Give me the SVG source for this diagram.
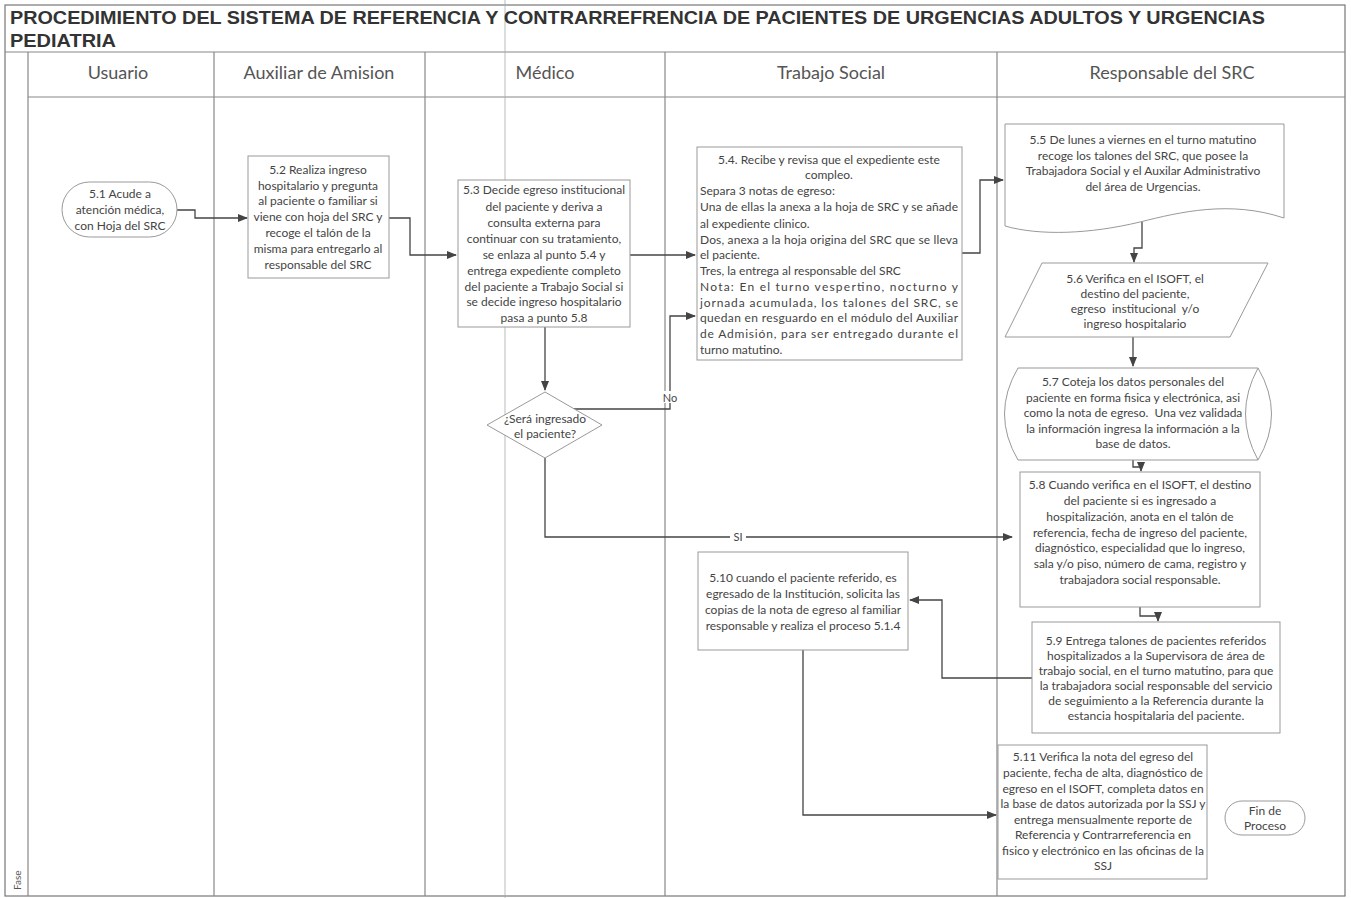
<svg xmlns="http://www.w3.org/2000/svg" width="1351" height="898" viewBox="0 0 1351 898">
<defs>
<marker id="ah" markerWidth="10" markerHeight="8" refX="9" refY="4" orient="auto" markerUnits="userSpaceOnUse">
<path d="M0,0 L10,4 L0,8 Z" fill="#444"/>
</marker>
<style>
.frame{fill:none;stroke:#777;stroke-width:1.2}
.lane{stroke:#888;stroke-width:1.2}
.title{font-family:"Liberation Sans",Arial,sans-serif;font-weight:bold;font-size:19px;fill:#333}
.hdr{font-family:Lato,"Open Sans",sans-serif;font-size:18px;fill:#555;text-anchor:middle}
.node{fill:#fff;stroke:#999;stroke-width:1}
.t{font-family:Lato,"Open Sans",sans-serif;font-size:12px;fill:#444;text-anchor:middle}
.tl{font-family:Lato,"Open Sans",sans-serif;font-size:12px;fill:#444}
.c{fill:none;stroke:#444;stroke-width:1.3}
.lbl{font-family:Lato,"Open Sans",sans-serif;font-size:11px;fill:#444;text-anchor:middle}
</style>
</defs>
<rect width="1351" height="898" fill="#fff"/>

<g id="frame">
<rect class="frame" x="5" y="5" width="1340" height="891"/>
<line class="lane" x1="5" y1="52" x2="1345" y2="52"/>
<line class="lane" x1="28" y1="97" x2="1345" y2="97"/>
<line class="lane" x1="28" y1="52" x2="28" y2="896"/>
<line class="lane" x1="214" y1="52" x2="214" y2="896"/>
<line class="lane" x1="425" y1="52" x2="425" y2="896"/>
<line class="lane" x1="665" y1="52" x2="665" y2="896"/>
<line class="lane" x1="997" y1="52" x2="997" y2="896"/>
<line x1="505" y1="0" x2="505" y2="898" stroke="#aaa" stroke-width="0.8"/>
<text class="title" x="10" y="24" textLength="1255" lengthAdjust="spacingAndGlyphs">PROCEDIMIENTO DEL SISTEMA DE REFERENCIA Y CONTRARREFRENCIA DE PACIENTES  DE URGENCIAS ADULTOS Y URGENCIAS</text>
<text class="title" x="10" y="47" textLength="106" lengthAdjust="spacingAndGlyphs">PEDIATRIA</text>
<text class="hdr" x="118" y="79">Usuario</text>
<text class="hdr" x="319" y="79">Auxiliar de Amision</text>
<text class="hdr" x="545" y="79">Médico</text>
<text class="hdr" x="831" y="79">Trabajo Social</text>
<text class="hdr" x="1172" y="79">Responsable del SRC</text>
<text font-family="Lato,sans-serif" font-size="10" fill="#555" transform="translate(21,890) rotate(-90)">Fase</text>
</g>

<g id="connectors">
<path class="c" d="M177,210 H195 V218 H247" marker-end="url(#ah)"/>
<path class="c" d="M389,218 H410 V255 H456" marker-end="url(#ah)"/>
<path class="c" d="M630,255 H695" marker-end="url(#ah)"/>
<path class="c" d="M545,327 V390" marker-end="url(#ah)"/>
<path class="c" d="M572,409 H670 V316 H695" marker-end="url(#ah)"/>
<rect x="661" y="391" width="18" height="12" fill="#fff"/>
<text class="lbl" x="670" y="402">No</text>
<path class="c" d="M545,458 V537 H1012" marker-end="url(#ah)"/>
<rect x="730" y="531" width="16" height="12" fill="#fff"/>
<text class="lbl" x="738" y="541">SI</text>
<path class="c" d="M962,253 H980 V180 H1003" marker-end="url(#ah)"/>
<path class="c" d="M1142,222 V248 H1134 V262" marker-end="url(#ah)"/>
<path class="c" d="M1133,337 V366" marker-end="url(#ah)"/>
<path class="c" d="M1133,460 V467 H1141 V471" marker-end="url(#ah)"/>
<path class="c" d="M1140,607 V616 H1158 V621" marker-end="url(#ah)"/>
<path class="c" d="M1032,678 H942 V600 H910" marker-end="url(#ah)"/>
<path class="c" d="M803,650 V815 H996" marker-end="url(#ah)"/>
</g>

<g id="n51">
<rect class="node" x="62" y="182" width="115" height="55" rx="27.5"/>
<text class="t" x="120" y="198">5.1 Acude a</text>
<text class="t" x="120" y="214">atención médica,</text>
<text class="t" x="120" y="230">con Hoja del SRC</text>
</g>

<g id="n52">
<rect class="node" x="248" y="156" width="141" height="122"/>
<text class="t" x="318" y="174">5.2 Realiza ingreso</text>
<text class="t" x="318" y="190">hospitalario y pregunta</text>
<text class="t" x="318" y="205">al paciente o familiar si</text>
<text class="t" x="318" y="221">viene con hoja del SRC y</text>
<text class="t" x="318" y="237">recoge el talón de la</text>
<text class="t" x="318" y="253">misma para entregarlo al</text>
<text class="t" x="318" y="269">responsable del SRC</text>
</g>

<g id="n53">
<rect class="node" x="458" y="180" width="172" height="147"/>
<text class="t" x="544" y="194">5.3 Decide egreso institucional</text>
<text class="t" x="544" y="211">del paciente y deriva a</text>
<text class="t" x="544" y="227">consulta externa para</text>
<text class="t" x="544" y="243">continuar con su tratamiento,</text>
<text class="t" x="544" y="259">se enlaza al punto 5.4 y</text>
<text class="t" x="544" y="275">entrega expediente completo</text>
<text class="t" x="544" y="291">del paciente a Trabajo Social si</text>
<text class="t" x="544" y="306">se decide ingreso hospitalario</text>
<text class="t" x="544" y="322">pasa a punto 5.8</text>
</g>

<g id="ndecision">
<polygon class="node" points="545,392 602,425 545,458 487,425"/>
<text class="t" x="545" y="423">¿Será ingresado</text>
<text class="t" x="545" y="438">el paciente?</text>
</g>

<g id="n54">
<rect class="node" x="697" y="147" width="265" height="213"/>
<text class="t" x="829" y="164">5.4. Recibe y revisa que el expediente este</text>
<text class="t" x="829" y="179">compleo.</text>
<text class="tl" x="700" y="195">Separa 3 notas de egreso:</text>
<text class="tl" x="700" y="211" textLength="258" lengthAdjust="spacing">Una de ellas la anexa a la hoja de SRC y se añade</text>
<text class="tl" x="700" y="228">al expediente clinico.</text>
<text class="tl" x="700" y="244" textLength="258" lengthAdjust="spacing">Dos, anexa a la hoja origina del SRC que se lleva</text>
<text class="tl" x="700" y="259">el paciente.</text>
<text class="tl" x="700" y="275">Tres, la entrega al responsable del SRC</text>
<text class="tl" x="700" y="291" textLength="258" lengthAdjust="spacing">Nota: En el turno vespertino, nocturno y</text>
<text class="tl" x="700" y="307" textLength="258" lengthAdjust="spacing">jornada acumulada, los talones del SRC, se</text>
<text class="tl" x="700" y="322" textLength="258" lengthAdjust="spacing">quedan en resguardo en el módulo del Auxiliar</text>
<text class="tl" x="700" y="338" textLength="258" lengthAdjust="spacing">de Admisión, para ser entregado durante el</text>
<text class="tl" x="700" y="354">turno matutino.</text>
</g>

<g id="n55">
<path class="node" d="M1005,124 H1284 V218 C1230,200 1180,212 1140,222 C1090,234 1040,236 1005,226 Z"/>
<text class="t" x="1143" y="144">5.5 De lunes a viernes en el turno matutino</text>
<text class="t" x="1143" y="160">recoge los talones del SRC, que posee la</text>
<text class="t" x="1143" y="175">Trabajadora Social y el Auxilar Administrativo</text>
<text class="t" x="1143" y="191">del área de Urgencias.</text>
</g>

<g id="n56">
<polygon class="node" points="1042,263 1268,263 1230,337 1005,337"/>
<text class="t" x="1135" y="283">5.6 Verifica en el ISOFT, el</text>
<text class="t" x="1135" y="298">destino del paciente,</text>
<text class="t" x="1135" y="313" xml:space="preserve">egreso  institucional  y/o</text>
<text class="t" x="1135" y="328">ingreso hospitalario</text>
</g>

<g id="n57">
<path class="node" d="M1018,368 H1258 Q1285,414 1258,460 H1018 Q991,414 1018,368 Z"/>
<path fill="none" stroke="#999" stroke-width="1" d="M1258,368 Q1233,414 1258,460"/>
<text class="t" x="1133" y="386">5.7 Coteja los datos personales del</text>
<text class="t" x="1133" y="402">paciente en forma fisica y electrónica, asi</text>
<text class="t" x="1133" y="417" xml:space="preserve">como la nota de egreso.  Una vez validada</text>
<text class="t" x="1133" y="433">la información ingresa la información a la</text>
<text class="t" x="1133" y="448">base de datos.</text>
</g>

<g id="n58">
<rect class="node" x="1020" y="472" width="240" height="135"/>
<text class="t" x="1140" y="489">5.8 Cuando verifica en el ISOFT, el destino</text>
<text class="t" x="1140" y="505">del paciente si es ingresado a</text>
<text class="t" x="1140" y="521">hospitalización, anota en el talón de</text>
<text class="t" x="1140" y="537">referencia, fecha de ingreso del paciente,</text>
<text class="t" x="1140" y="552">diagnóstico, especialidad que lo ingreso,</text>
<text class="t" x="1140" y="568">sala y/o piso, número de cama, registro y</text>
<text class="t" x="1140" y="584">trabajadora social responsable.</text>
</g>

<g id="n59">
<rect class="node" x="1032" y="622" width="248" height="111"/>
<text class="t" x="1156" y="645">5.9 Entrega talones de pacientes referidos</text>
<text class="t" x="1156" y="660">hospitalizados a la Supervisora de área de</text>
<text class="t" x="1156" y="675">trabajo social, en el turno matutino, para que</text>
<text class="t" x="1156" y="690">la trabajadora social responsable del servicio</text>
<text class="t" x="1156" y="705">de seguimiento a la Referencia durante la</text>
<text class="t" x="1156" y="720">estancia hospitalaria del paciente.</text>
</g>

<g id="n510">
<rect class="node" x="698" y="552" width="210" height="98"/>
<text class="t" x="803" y="582">5.10 cuando el paciente referido, es</text>
<text class="t" x="803" y="598">egresado de la Institución, solicita las</text>
<text class="t" x="803" y="614">copias de la nota de egreso al familiar</text>
<text class="t" x="803" y="630">responsable y realiza el proceso 5.1.4</text>
</g>

<g id="n511">
<rect class="node" x="998" y="745" width="209" height="134"/>
<text class="t" x="1103" y="761">5.11 Verifica la nota del egreso del</text>
<text class="t" x="1103" y="777">paciente, fecha de alta, diagnóstico de</text>
<text class="t" x="1103" y="793">egreso en el ISOFT, completa datos en</text>
<text class="t" x="1103" y="808">la base de datos autorizada por la SSJ y</text>
<text class="t" x="1103" y="824">entrega mensualmente reporte de</text>
<text class="t" x="1103" y="839">Referencia y Contrarreferencia en</text>
<text class="t" x="1103" y="855">fisico y electrónico en las oficinas de la</text>
<text class="t" x="1103" y="870">SSJ</text>
</g>

<g id="nfin">
<rect class="node" x="1225" y="801" width="80" height="34" rx="17"/>
<text class="t" x="1265" y="815">Fin de</text>
<text class="t" x="1265" y="830">Proceso</text>
</g>
</svg>
